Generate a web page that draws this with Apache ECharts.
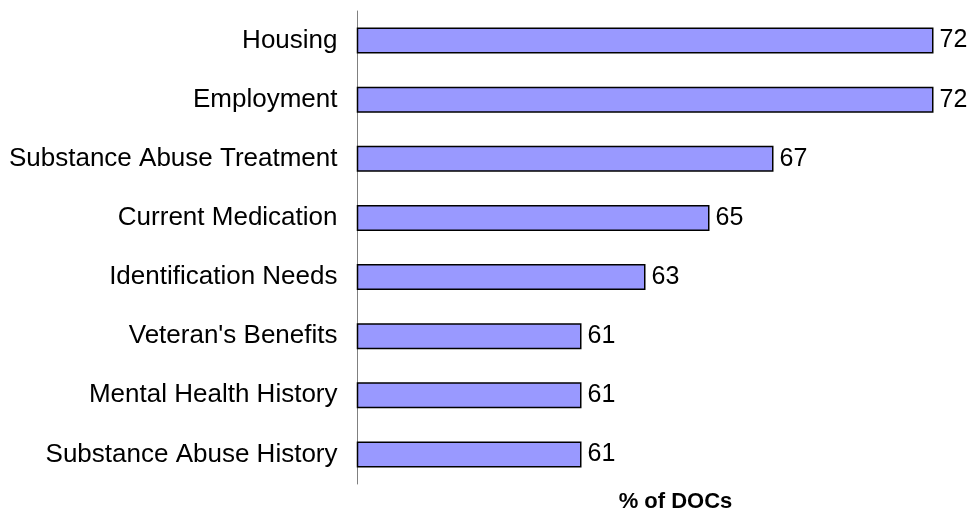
<!DOCTYPE html>
<html>
<head>
<meta charset="utf-8">
<script src="https://cdn.jsdelivr.net/npm/echarts@6/dist/echarts.min.js"></script>
<style>html,body{margin:0;padding:0;background:#fff;}#c{width:969px;height:517px;}</style>
</head>
<body>
<div id="c"></div>
<script>
const categories = ["Housing","Employment","Substance Abuse Treatment","Current Medication","Identification Needs","Veteran's Benefits","Mental Health History","Substance Abuse History"];
const values = [72,72,67,65,63,61,61,61];
const axisName = "% of DOCs";

const chart = echarts.init(document.getElementById('c'), null, {renderer:'canvas'});
chart.setOption({
  animation:false,
  backgroundColor:'#ffffff',
  grid:{left:357.5, right:35.5, top:11, bottom:33, containLabel:false, outerBoundsMode:'none'},
  xAxis:{
    type:'value', min:54, max:72,
    axisLine:{show:false}, axisTick:{show:false}, axisLabel:{show:false}, splitLine:{show:false},
    name:axisName, nameLocation:'middle', nameGap:7,
    nameTextStyle:{fontFamily:'Liberation Sans, Arial, sans-serif', fontSize:22, fontWeight:'bold', color:'#000', padding:[0,0,0,60]}
  },
  yAxis:{
    type:'category', data:categories, inverse:true,
    axisLine:{show:true, lineStyle:{color:'#808080', width:1}},
    axisTick:{show:false},
    axisLabel:{margin:20, fontFamily:'Liberation Sans, Arial, sans-serif', fontSize:26, color:'#000'}
  },
  series:[{
    type:'bar', data:values, barWidth:'44%',
    itemStyle:{color:'#9999FF', borderColor:'#000', borderWidth:1.5},
    label:{show:true, position:'right', distance:6, fontFamily:'Liberation Sans, Arial, sans-serif', fontSize:25, color:'#000'}
  }]
});
</script>
</body>
</html>
